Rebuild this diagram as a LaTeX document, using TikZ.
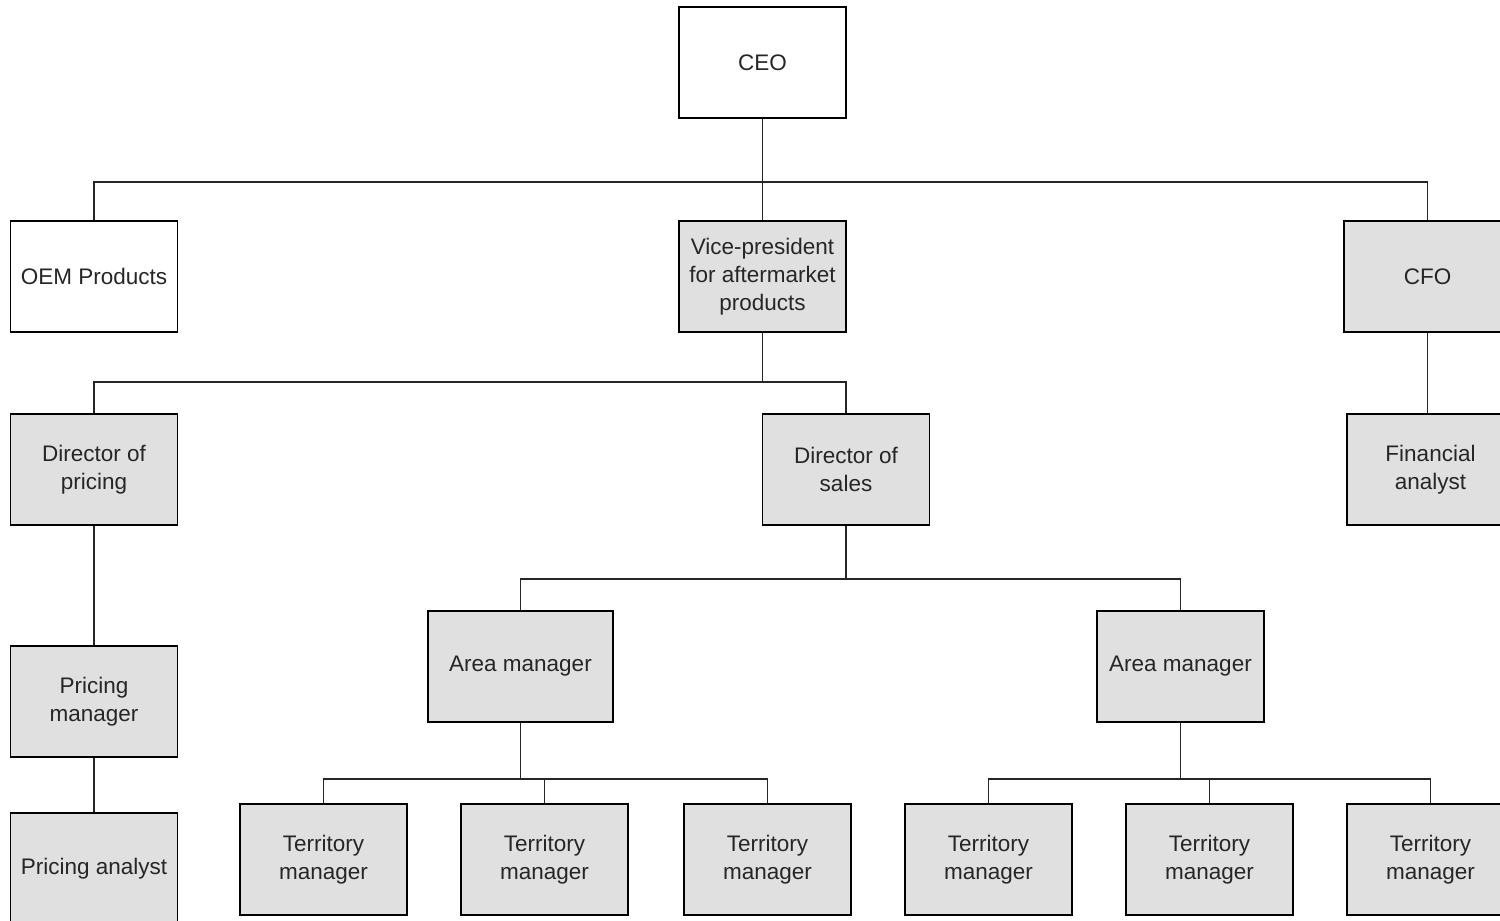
\documentclass[tikz,border=0pt]{standalone}
\usepackage{fontspec}
\setmainfont{Liberation Sans}
\begin{document}
\begin{tikzpicture}[x=1pt,y=-1pt,
  box/.style={draw=black, line width=1.4pt, fill=boxgray, minimum width=167pt, minimum height=111pt, inner sep=2pt, align=center, font=\fontsize{22.5}{28}\selectfont, text=black!85},
  wbox/.style={box, fill=white},
  conn/.style={draw=black!85, line width=1.5pt}]
\definecolor{boxgray}{HTML}{E0E0E0}
\useasboundingbox (0,0) rectangle (1500,921);
\clip (0,0) rectangle (1500,921);
% nodes
\node[wbox] (ceo) at (762.5,62.5) {CEO};
\node[wbox] (oem) at (94,276.5) {OEM Products};
\node[box] (vp) at (762.5,276.5) {Vice-president\\for aftermarket\\products};
\node[box] (cfo) at (1427.5,276.5) {CFO};
\node[box] (dp) at (94,469.5) {Director of\\pricing};
\node[box] (ds) at (846,469.5) {Director of\\sales};
\node[box] (fa) at (1430.5,469.5) {Financial\\analyst};
\node[box] (pm) at (94,701.5) {Pricing\\manager};
\node[box] (pa) at (94,868.5) {Pricing analyst};
\node[box, minimum width=185pt] (am1) at (520.5,666.5) {Area manager};
\node[box] (am2) at (1180.5,666.5) {Area manager};
\node[box] (t1) at (323.5,859.5) {Territory\\manager};
\node[box] (t2) at (544.5,859.5) {Territory\\manager};
\node[box] (t3) at (767.5,859.5) {Territory\\manager};
\node[box] (t4) at (988.5,859.5) {Territory\\manager};
\node[box] (t5) at (1209.5,859.5) {Territory\\manager};
\node[box] (t6) at (1430.5,859.5) {Territory\\manager};
% bus coordinates
\coordinate (b1) at (762.5,182);
\coordinate (b2) at (762.5,382);
\coordinate (b3) at (846,579);
\coordinate (b4) at (520.5,779);
\coordinate (b5) at (1180.5,779);
% connectors
\draw[conn] (ceo.south) -- (b1);
\draw[conn] (oem.north) -- (oem.north |- b1) -- (cfo.north |- b1) -- (cfo.north);
\draw[conn] (b1) -- (vp.north);
\draw[conn] (vp.south) -- (b2);
\draw[conn] (dp.north) -- (dp.north |- b2) -- (ds.north |- b2) -- (ds.north);
\draw[conn] (cfo.south) -- (cfo.south |- fa.north);
\draw[conn] (dp.south) -- (pm.north);
\draw[conn] (pm.south) -- (pa.north);
\draw[conn] (ds.south) -- (b3);
\draw[conn] (am1.north) -- (am1.north |- b3) -- (am2.north |- b3) -- (am2.north);
\draw[conn] (am1.south) -- (b4);
\draw[conn] (t1.north) -- (t1.north |- b4) -- (t3.north |- b4) -- (t3.north);
\draw[conn] (t2.north |- b4) -- (t2.north);
\draw[conn] (am2.south) -- (b5);
\draw[conn] (t4.north) -- (t4.north |- b5) -- (t6.north |- b5) -- (t6.north);
\draw[conn] (t5.north |- b5) -- (t5.north);
\end{tikzpicture}
\end{document}
